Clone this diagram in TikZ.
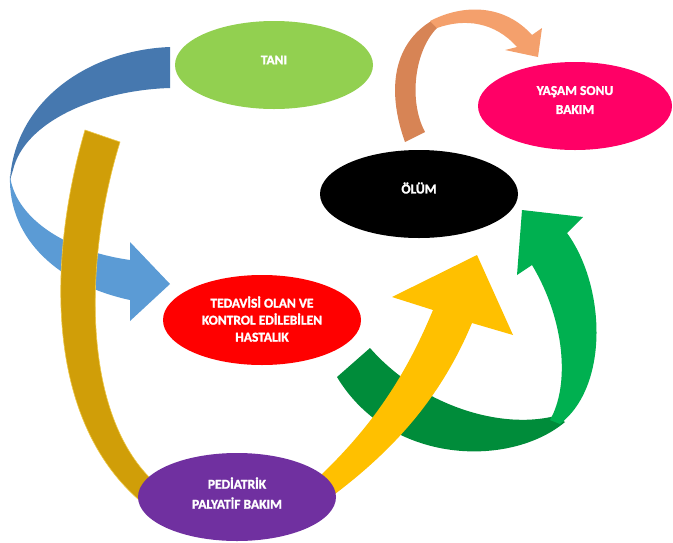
\documentclass[tikz,border=0pt]{standalone}
\usepackage{fontspec}
\setmainfont{Carlito}[BoldFont={Carlito Bold}, BoldFeatures={FakeBold=1.6}]
\usetikzlibrary{shapes.geometric}
\definecolor{bluedark}{RGB}{70,120,175}
\definecolor{bluelight}{RGB}{91,155,213}
\definecolor{goldband}{RGB}{208,158,8}
\definecolor{goldedge}{RGB}{238,200,70}
\definecolor{yellowarrow}{RGB}{255,192,0}
\definecolor{greendark}{RGB}{0,140,58}
\definecolor{greenbright}{RGB}{0,176,80}
\definecolor{orangedark}{RGB}{215,132,85}
\definecolor{orangelight}{RGB}{244,160,108}
\definecolor{taniclr}{RGB}{146,208,80}
\definecolor{yasamclr}{RGB}{255,0,102}
\definecolor{tedaviclr}{RGB}{255,0,0}
\definecolor{pedclr}{RGB}{112,48,160}
\begin{document}
\begin{tikzpicture}[x=1pt,y=-1pt,
  blob/.style={ellipse, inner sep=0pt, draw=none},
  lbl/.style={text=white, font=\bfseries\fontsize{13.5}{17}\selectfont, align=center, inner sep=0pt}]
\useasboundingbox (0,0) rectangle (673,542);
\fill[white] (0,0) rectangle (673,542);

% blue curved arrow (TANI -> TEDAVISI)
\fill[bluelight] (10,176) .. controls (15,215) and (60,250) .. (130,260)
  -- (130,242) -- (170,284) -- (130,321) -- (130,300)
  .. controls (60,285) and (8,240) .. (10,176) -- cycle;
\fill[bluedark] (170,47) .. controls (90,50) and (15,100) .. (10,180)
  -- (13,170) .. controls (25,120) and (100,90) .. (170,88) -- cycle;

% gold band
\filldraw[fill=goldband, draw=goldedge, line width=0.6pt] (85,130)
  .. controls (50,250) and (40,420) .. (145,505)
  -- (152,480) .. controls (80,410) and (85,255) .. (120,142) -- cycle;

% green arrow
\fill[greendark] (337,377) -- (370,348)
  .. controls (420,405) and (500,430) .. (555,416)
  -- (565,422) .. controls (510,468) and (390,465) .. (337,377) -- cycle;
\fill[greenbright] (550,420) .. controls (570,385) and (565,320) .. (532,265)
  -- (517,275) -- (522,210) -- (583,217) -- (567,233)
  .. controls (605,285) and (610,385) .. (560,424) -- cycle;

% yellow arrow
\fill[yellowarrow] (305,490) .. controls (360,440) and (400,390) .. (433,310)
  -- (392,297) -- (477,255) -- (513,335) -- (472,323)
  .. controls (440,400) and (390,455) .. (320,505) -- cycle;

% orange arrow
\fill[orangedark] (405,142) .. controls (388,95) and (390,45) .. (433,20)
  -- (437,28) .. controls (415,50) and (408,100) .. (425,132) -- cycle;
\fill[orangelight] (430,21) .. controls (465,3) and (505,5) .. (532,35)
  -- (542,28) -- (538,57) -- (505,50) -- (517,47)
  .. controls (495,22) and (465,18) .. (437,28) -- cycle;

% ellipses
\node[blob, fill=taniclr, minimum width=198pt, minimum height=88pt] (tani) at (274,65) {};
\node[blob, fill=black, minimum width=198pt, minimum height=88pt] (olum) at (419,194) {};
\node[blob, fill=yasamclr, minimum width=194pt, minimum height=88pt] (yasam) at (575,106) {};
\node[blob, fill=tedaviclr, minimum width=198pt, minimum height=90pt] (tedavi) at (262,320) {};
\node[blob, fill=pedclr, minimum width=198pt, minimum height=88pt] (ped) at (237,497) {};

% labels
\node[lbl] (tanitxt) at (274,60) {TANI};
\node[lbl] (olumtxt) at (419,188) {ÖLÜM};
\node[lbl] (yasamtxt) at (575,100) {YAŞAM SONU\\[2pt]BAKIM};
\node[lbl] (tedavitxt) at (262,319) {TEDAVİSİ OLAN VE\\KONTROL EDİLEBİLEN\\HASTALIK};
\node[lbl] (pedtxt) at (237,493) {PEDİATRİK\\[3pt]PALYATİF BAKIM};
\end{tikzpicture}
\end{document}
